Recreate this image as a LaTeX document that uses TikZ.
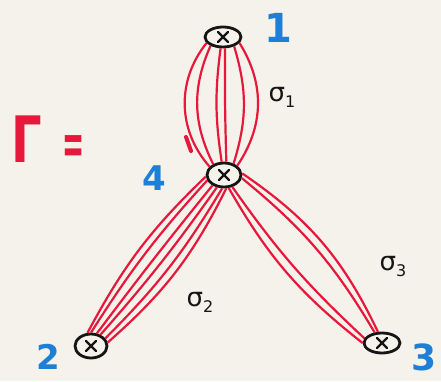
\documentclass[tikz,border=0pt]{standalone}
\usepackage{fontspec}
\setmainfont{DejaVu Sans}
\usetikzlibrary{shapes.geometric}
\definecolor{bgc}{HTML}{F4F2EA}
\definecolor{inkred}{HTML}{E6193C}
\definecolor{inkblue}{HTML}{1E7FD6}
\definecolor{ink}{HTML}{151515}
\begin{document}
\begin{tikzpicture}[x=1pt,y=1pt,
  vtx/.style={ellipse, draw=ink, line width=2.8pt, fill=bgc, inner sep=0pt},
  strand/.style={draw=inkred, line width=2.2pt},
  cross/.style={draw=ink, line width=2.4pt, line cap=round},
  numlab/.style={text=inkblue, inner sep=0pt},
  siglab/.style={text=ink, inner sep=0pt}]
\fill[bgc] (0,0) rectangle (441,381);
\useasboundingbox (0,0) rectangle (441,381);

% vertices
\node[vtx, minimum width=36pt, minimum height=20pt] (v1) at (223,344) {};
\node[vtx, minimum width=34pt, minimum height=24pt] (v4) at (224,206) {};
\node[vtx, minimum width=32pt, minimum height=24pt] (v2) at (91,35) {};
\node[vtx, minimum width=36pt, minimum height=20pt] (v3) at (382,38) {};

\foreach \v in {v1,v4,v2,v3}{
  \draw[cross] ([shift={(-5,-5)}]\v.center) -- ([shift={(5,5)}]\v.center);
  \draw[cross] ([shift={(-5,5)}]\v.center) -- ([shift={(5,-5)}]\v.center);
}

% edge 4-1 : three ribbons
\draw[strand] (v4.150) to[bend left=40] (v1.200);
\draw[strand] (v4.135) to[bend left=25] (v1.215);
\draw[strand] (v4.100) to[bend left=8] (v1.258);
\draw[strand] (v4.80) to[bend left=1] (v1.280);
\draw[strand] (v4.50) to[bend right=17] (v1.320);
\draw[strand] (v4.35) to[bend right=33] (v1.340);

% edge 4-2 : three ribbons
\draw[strand] (v4.185) to[bend right=9] (v2.105);
\draw[strand] (v4.198) to[bend right=5] (v2.90);
\draw[strand] (v4.222) to[bend right=1] (v2.65);
\draw[strand] (v4.240) to[bend left=3] (v2.50);
\draw[strand] (v4.262) to[bend left=7] (v2.28);
\draw[strand] (v4.280) to[bend left=11] (v2.12);

% edge 4-3 : two ribbons
\draw[strand] (v4.5) to[bend left=15] (v3.110);
\draw[strand] (v4.350) to[bend left=10] (v3.125);
\draw[strand] (v4.305) to[bend right=6] (v3.165);
\draw[strand] (v4.290) to[bend right=11] (v3.180);

% small red tick
\draw[inkred, line width=4pt, line cap=round] (186,244) -- (191,230);

% vertex labels
\node[numlab, font=\bfseries\fontsize{40}{40}\selectfont] (l1) at (278,353) {1};
\node[numlab, font=\bfseries\fontsize{34}{34}\selectfont] (l4) at (154,203) {4};
\node[numlab, font=\bfseries\fontsize{34}{34}\selectfont] (l2) at (48,24) {2};
\node[numlab, font=\bfseries\fontsize{36}{36}\selectfont] (l3) at (424,24) {3};

% sigma labels
\node[siglab] (s1) at (282,284) {\fontsize{26}{26}\selectfont σ\raisebox{-6pt}{\fontsize{16}{16}\selectfont 1}};
\node[siglab] (s2) at (200,79) {\fontsize{26}{26}\selectfont σ\raisebox{-6pt}{\fontsize{16}{16}\selectfont 2}};
\node[siglab] (s3) at (393,114) {\fontsize{26}{26}\selectfont σ\raisebox{-6pt}{\fontsize{16}{16}\selectfont 3}};

% Gamma =
\node[text=inkred, inner sep=0pt] (gam) at (27,242) {\scalebox{0.75}[1]{\bfseries\fontsize{64}{64}\selectfont Γ}};
\node[text=inkred, inner sep=0pt] (eq) at (74,231) {\scalebox{0.66}[1.5]{\bfseries\fontsize{40}{40}\selectfont =}};
\end{tikzpicture}
\end{document}
